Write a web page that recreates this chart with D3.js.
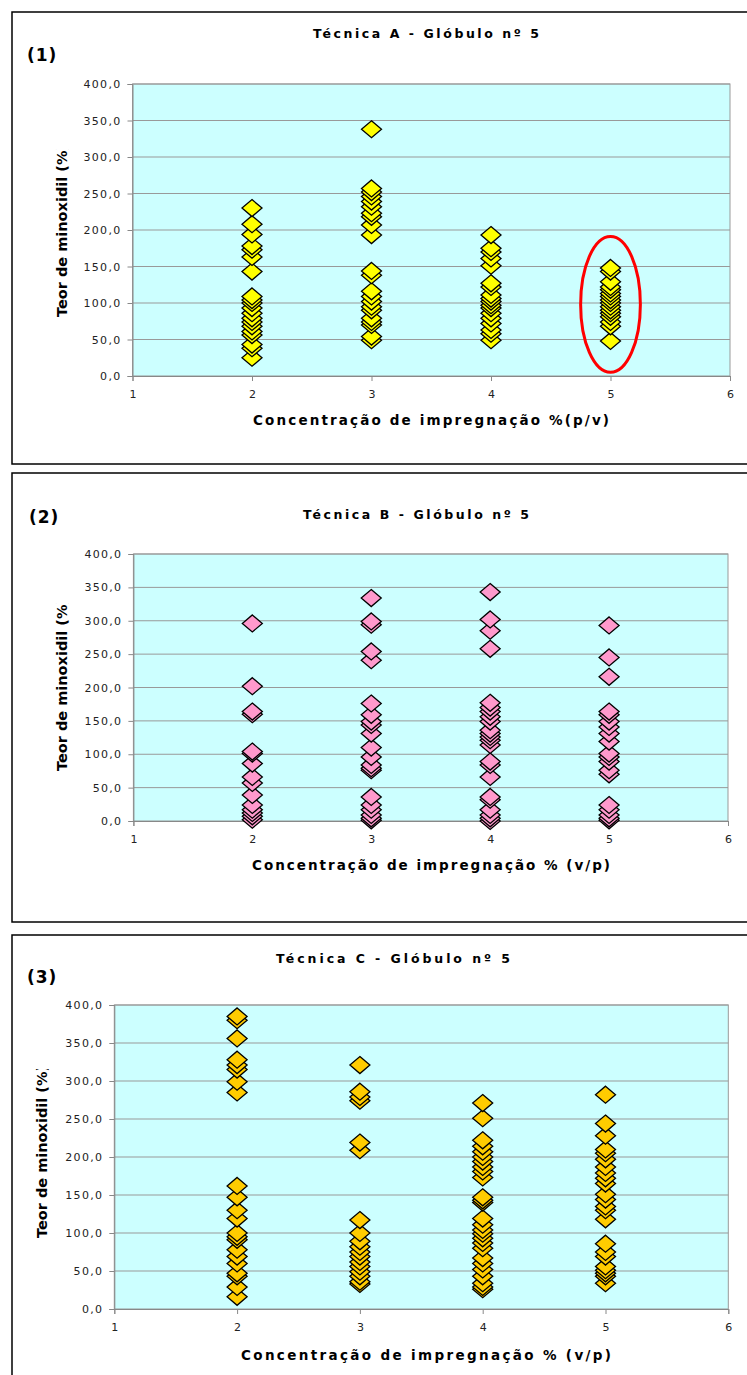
<!doctype html>
<html lang="en">
<head>
  <meta charset="utf-8">
  <title>Técnica A, B, C - Glóbulo nº 5</title>
  <style>
  body{
    margin: 0;
    background: #fff;
  }
  </style>
  <script src="https://d3js.org/d3.v7.min.js"></script>
</head>
<body>
<div id="area"></div>
<script>
// x categories (concentração de impregnação)
var concentracoes = [2, 3, 4, 5];
var xTicks = [1, 2, 3, 4, 5, 6];
var yTicks = [0, 50, 100, 150, 200, 250, 300, 350, 400];

// técnica A - teor de minoxidil (%) per concentration
var tecA_2 = [230, 208, 194, 178, 173, 163, 143, 109, 104, 100, 93, 86, 79, 74, 68, 61, 56, 43, 38, 25];
var tecA_3 = [338, 257, 252, 246, 239, 232, 223, 218, 207, 193, 144, 138, 116, 109, 102, 95, 90, 79, 74, 70, 54, 49];
var tecA_4 = [193, 175, 170, 161, 151, 127, 122, 111, 106, 102, 97, 93, 86, 79, 72, 63, 58, 49];
var tecA_5 = [148, 143, 129, 122, 118, 113, 109, 104, 100, 95, 90, 86, 81, 74, 68, 48];

// técnica B
var tecB_2 = [296, 202, 164, 160, 104, 101, 86, 66, 57, 39, 24, 17, 12, 7, 2];
var tecB_3 = [334, 299, 294, 254, 241, 176, 159, 149, 144, 131, 110, 96, 84, 79, 76, 36, 24, 17, 9, 4, 1];
var tecB_4 = [343, 302, 285, 258, 177, 170, 164, 156, 149, 136, 131, 126, 121, 114, 89, 84, 66, 36, 32, 17, 9, 4, 0];
var tecB_5 = [293, 245, 216, 164, 159, 149, 141, 131, 119, 101, 96, 89, 76, 70, 24, 17, 9, 4, 1];

// técnica C
var tecC_2 = [385, 380, 356, 328, 321, 315, 299, 285, 162, 147, 130, 119, 100, 95, 91, 78, 69, 60, 47, 43, 29, 16];
var tecC_3 = [321, 286, 279, 274, 219, 209, 117, 100, 89, 82, 75, 69, 62, 56, 49, 43, 36, 33];
var tecC_4 = [271, 251, 222, 214, 207, 200, 194, 187, 181, 173, 147, 143, 140, 119, 111, 104, 99, 93, 87, 80, 67, 60, 52, 43, 34, 29, 26];
var tecC_5 = [282, 244, 228, 210, 205, 197, 187, 179, 172, 165, 151, 144, 135, 130, 118, 86, 75, 69, 56, 51, 47, 43, 34];

// highlighted group in panel (1): centre and half sizes in data units
var destaque = {x: 5, y: 98, dx: 0.25, dy: 93};

var svg = d3.select('#area').append('svg')
  .attr('width', 747)
  .attr('height', 1375);

var fmt = function(d) { return d3.format('.1f')(d).replace('.', ','); };

function drawPanel(p) {
  var g = svg.append('g');

  // outer frame
  g.append('rect')
    .attr('x', 12).attr('y', p.boxTop)
    .attr('width', 745).attr('height', p.boxBottom - p.boxTop)
    .attr('fill', '#fff')
    .attr('stroke', '#000')
    .attr('stroke-width', 1.5);

  var x = d3.scaleLinear().domain([1, 6]).range([p.left, p.right]);
  var y = d3.scaleLinear().domain([0, 400]).range([p.bottom, p.top]);

  // plot area
  g.append('rect')
    .attr('x', x(1)).attr('y', y(400))
    .attr('width', x(6) - x(1)).attr('height', y(0) - y(400))
    .attr('fill', '#CCFFFF')
    .attr('stroke', '#999')
    .attr('stroke-width', 1);

  // gridlines
  g.selectAll('.grid')
    .data(yTicks.slice(1))
    .enter().append('line')
    .attr('x1', x(1)).attr('x2', x(6))
    .attr('y1', function(d) { return y(d); })
    .attr('y2', function(d) { return y(d); })
    .attr('stroke', '#999')
    .attr('stroke-width', 1);

  // y axis
  var yAxis = d3.axisLeft(y).tickValues(yTicks).tickFormat(fmt).tickSize(5).tickPadding(6);
  var ya = g.append('g').attr('transform', 'translate(' + x(1) + ',0)').call(yAxis);
  ya.select('.domain').attr('stroke', '#888');
  ya.selectAll('line').attr('stroke', '#888');
  ya.selectAll('text')
    .attr('font-family', 'DejaVu Sans, sans-serif')
    .attr('font-size', '11px')
    .attr('letter-spacing', '1.3px')
    .attr('fill', '#222');

  // x axis
  var xAxis = d3.axisBottom(x).tickValues(xTicks).tickFormat(d3.format('d')).tickSize(5).tickPadding(9);
  var xa = g.append('g').attr('transform', 'translate(0,' + y(0) + ')').call(xAxis);
  xa.select('.domain').attr('stroke', '#888');
  xa.selectAll('line').attr('stroke', '#888');
  xa.selectAll('text')
    .attr('font-family', 'DejaVu Sans, sans-serif')
    .attr('font-size', '11px')
    .attr('fill', '#222');

  // title
  g.append('text')
    .attr('x', p.titleX - p.titleW / 2)
    .attr('y', p.titleY + 5)
    .attr('textLength', p.titleW)
    .attr('lengthAdjust', 'spacing')
    .attr('font-family', 'DejaVu Sans, sans-serif')
    .attr('font-weight', 'bold')
    .attr('font-size', '12.5px')
    .text(p.title);

  // panel number
  g.append('text')
    .attr('x', p.tagX)
    .attr('y', p.tagY + 6)
    .attr('font-family', 'DejaVu Sans, sans-serif')
    .attr('font-weight', 'bold')
    .attr('font-size', '17px')
    .attr('letter-spacing', '1px')
    .text(p.tag);

  // x label
  g.append('text')
    .attr('x', p.xlabX - p.xlabW / 2)
    .attr('y', p.xlabY + 5)
    .attr('textLength', p.xlabW)
    .attr('lengthAdjust', 'spacing')
    .attr('font-family', 'DejaVu Sans, sans-serif')
    .attr('font-weight', 'bold')
    .attr('font-size', '13.5px')
    .text(p.xlab);

  // y label, cut just after "(%" like the original
  var clipId = 'clip' + p.tag.replace(/\W/g, '');
  var clipRect = svg.append('clipPath').attr('id', clipId).append('rect');
  var ylab = g.append('g')
    .attr('clip-path', 'url(#' + clipId + ')')
    .append('text')
    .attr('transform', 'translate(' + (p.ylabX + 5) + ',' + p.ylabStart + ') rotate(-90)')
    .attr('font-family', 'DejaVu Sans, sans-serif')
    .attr('font-weight', 'bold')
    .attr('font-size', '14.5px')
    .text('Teor de minoxidil (%)');
  var shown = ylab.node().getSubStringLength(0, 20) + p.ylabExtra;
  clipRect
    .attr('x', 0).attr('y', p.ylabStart - shown)
    .attr('width', 120).attr('height', shown + 20);

  // points: lower values first so higher ones sit on top
  var pts = [];
  p.series.forEach(function(vals, i) {
    vals.slice().sort(d3.ascending).forEach(function(v) {
      pts.push({c: concentracoes[i], v: v});
    });
  });

  var hw = 10, hh = 8.5;
  g.selectAll('.pt')
    .data(pts)
    .enter().append('path')
    .attr('d', function(d) {
      var cx = x(d.c), cy = y(d.v);
      return 'M' + cx + ',' + (cy - hh) + 'L' + (cx + hw) + ',' + cy +
        'L' + cx + ',' + (cy + hh) + 'L' + (cx - hw) + ',' + cy + 'Z';
    })
    .attr('fill', p.color)
    .attr('stroke', '#000')
    .attr('stroke-width', 1.3);

  if (p.highlight) {
    g.append('ellipse')
      .attr('cx', x(p.highlight.x))
      .attr('cy', y(p.highlight.y))
      .attr('rx', x(p.highlight.x + p.highlight.dx) - x(p.highlight.x))
      .attr('ry', y(0) - y(p.highlight.dy))
      .attr('fill', 'none')
      .attr('stroke', '#FF0000')
      .attr('stroke-width', 3);
  }
}

drawPanel({
  boxTop: 12, boxBottom: 464,
  left: 132.5, right: 730, top: 84, bottom: 376,
  title: 'Técnica A - Glóbulo nº 5', titleX: 426, titleY: 33, titleW: 226,
  tag: '(1)', tagX: 27, tagY: 55,
  xlab: 'Concentração de impregnação %(p/v)', xlabX: 431, xlabY: 420, xlabW: 356,
  ylabX: 62, ylabStart: 317, ylabExtra: 1,
  series: [tecA_2, tecA_3, tecA_4, tecA_5],
  color: '#FFFF00',
  highlight: destaque
});

drawPanel({
  boxTop: 473, boxBottom: 922,
  left: 133.4, right: 728, top: 554, bottom: 821,
  title: 'Técnica B - Glóbulo nº 5', titleX: 416, titleY: 514, titleW: 226,
  tag: '(2)', tagX: 29, tagY: 517,
  xlab: 'Concentração de impregnação % (v/p)', xlabX: 431, xlabY: 865, xlabW: 358,
  ylabX: 62, ylabStart: 771, ylabExtra: 1,
  series: [tecB_2, tecB_3, tecB_4, tecB_5],
  color: '#FF99CC'
});

drawPanel({
  boxTop: 935, boxBottom: 1390,
  left: 114.3, right: 728.3, top: 1005, bottom: 1309,
  title: 'Técnica C - Glóbulo nº 5', titleX: 393, titleY: 958, titleW: 234,
  tag: '(3)', tagX: 27, tagY: 977,
  xlab: 'Concentração de impregnação % (v/p)', xlabX: 426, xlabY: 1355, xlabW: 370,
  ylabX: 42, ylabStart: 1238, ylabExtra: 2.5,
  series: [tecC_2, tecC_3, tecC_4, tecC_5],
  color: '#FFCC00'
});
</script>
</body>
</html>
